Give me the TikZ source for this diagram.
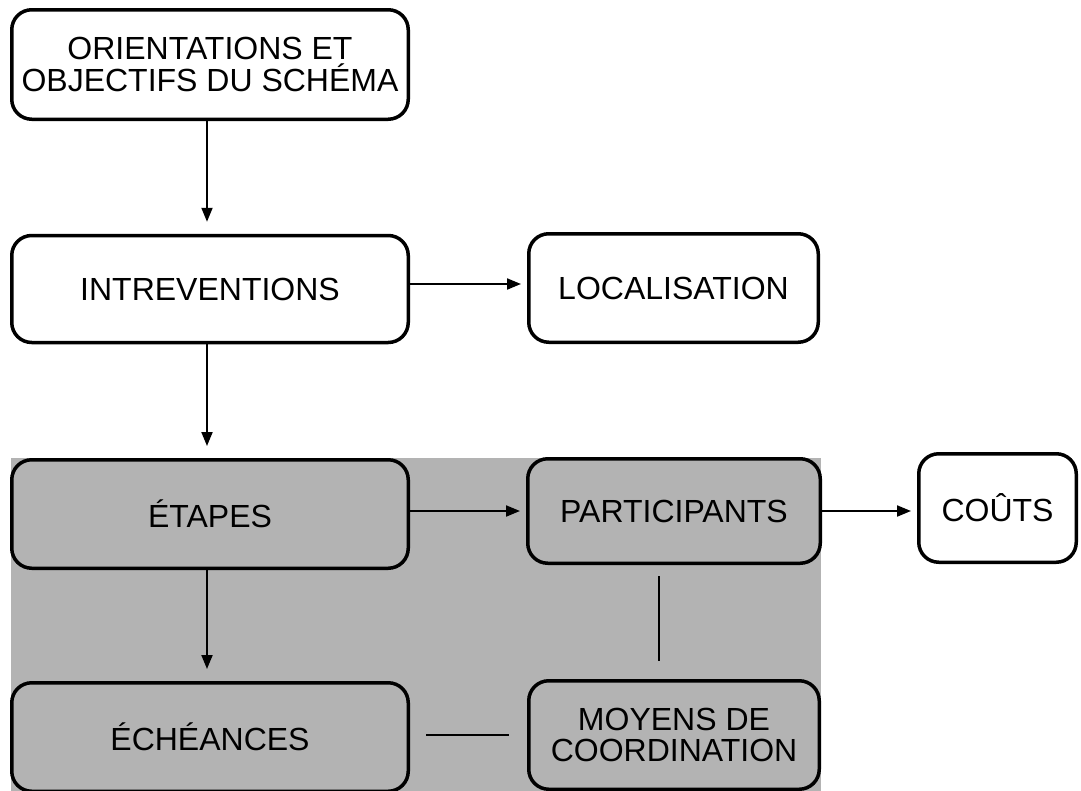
\documentclass[tikz,border=0pt]{standalone}
\usepackage{fontspec}
\setmainfont{Liberation Sans}
\usetikzlibrary{arrows.meta}
\definecolor{zonegray}{RGB}{179,179,179}
\tikzset{
  box/.style={draw=black, line width=3.5pt, rounded corners=20pt, fill=white,
    inner sep=0pt, align=center, font=\fontsize{32}{31.5}\selectfont, text=black},
  graybox/.style={box, fill=zonegray},
  arr/.style={line width=2pt, -{Triangle[length=14pt,width=11pt]}},
  link/.style={line width=2pt}
}
\begin{document}
\begin{tikzpicture}[x=1pt,y=-1pt]
\clip (0,0) rectangle (1081,790);
\fill[white] (0,0) rectangle (1081,790);
\fill[zonegray] (11,458) rectangle (821,800);
\node[box, minimum width=396.5pt, minimum height=109.5pt] (b1) at (210,64.5) {ORIENTATIONS ET\\OBJECTIFS DU SCHÉMA};
\node[box, minimum width=396.5pt, minimum height=107pt] (b2) at (210,289) {INTREVENTIONS};
\node[box, minimum width=289.5pt, minimum height=108.5pt] (b3) at (673.5,288) {LOCALISATION};
\node[graybox, minimum width=396.5pt, minimum height=108.5pt] (b4) at (210,514) {ÉTAPES};
\node[graybox, minimum width=292.5pt, minimum height=104.5pt] (b5) at (674,511) {PARTICIPANTS};
\node[box, minimum width=157.5pt, minimum height=108.5pt] (b6) at (997.5,508) {COÛTS};
\node[graybox, minimum width=396.5pt, minimum height=108.5pt] (b7) at (210,737) {ÉCHÉANCES};
\node[graybox, minimum width=290.5pt, minimum height=108.5pt] (b8) at (674,735) {MOYENS DE\\COORDINATION};
\draw[arr, shorten >=12pt] ([xshift=-3pt]b1.south) -- ([xshift=-3pt]b2.north);
\draw[arr, shorten >=12pt] ([xshift=-3pt]b2.south) -- ([xshift=-3pt]b4.north);
\draw[arr, shorten >=12pt] ([xshift=-3pt]b4.south) -- ([xshift=-3pt]b7.north);
\draw[arr, shorten >=6pt] (b2.east |- 0,284) -- (b3.west |- 0,284);
\draw[arr, shorten >=6pt] (b4.east |- 0,511) -- (b5.west |- 0,511);
\draw[arr, shorten >=6pt] (b5.east |- 0,511) -- (b6.west |- 0,511);
\draw[link, shorten <=11pt, shorten >=18pt] (b5.south -| 659,0) -- (b8.north -| 659,0);
\draw[link, shorten <=16pt, shorten >=18pt] (b7.east |- 0,735) -- (b8.west |- 0,735);
\end{tikzpicture}
\end{document}
